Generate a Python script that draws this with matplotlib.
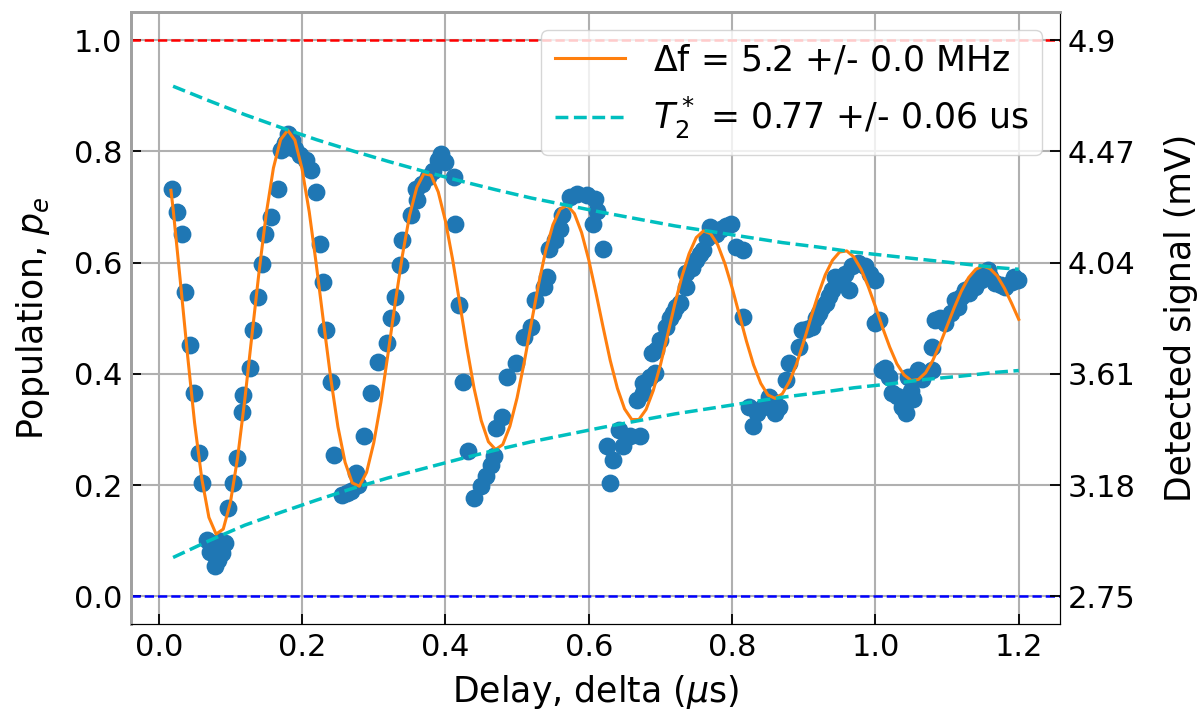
import numpy as np
import matplotlib.pyplot as plt

# measured points: delay (us) and excited-state population
delay = [0.018, 0.026, 0.032, 0.037, 0.044, 0.049, 0.056, 0.060, 0.067, 0.072,
         0.076, 0.079, 0.083, 0.085, 0.088, 0.093, 0.097, 0.104, 0.109, 0.116,
         0.118, 0.127, 0.132, 0.139, 0.144, 0.148, 0.157, 0.167, 0.171, 0.176,
         0.181, 0.181, 0.186, 0.190, 0.197, 0.206, 0.213, 0.220, 0.225, 0.229,
         0.234, 0.241, 0.245, 0.255, 0.262, 0.268, 0.275, 0.278, 0.287, 0.296,
         0.306, 0.319, 0.324, 0.329, 0.336, 0.340, 0.352, 0.359, 0.361, 0.368,
         0.375, 0.383, 0.390, 0.394, 0.400, 0.412, 0.414, 0.419, 0.424, 0.431,
         0.440, 0.449, 0.456, 0.463, 0.468, 0.470, 0.479, 0.486, 0.498, 0.509,
         0.519, 0.525, 0.537, 0.542, 0.544, 0.553, 0.560, 0.563, 0.574, 0.583,
         0.597, 0.606, 0.609, 0.611, 0.620, 0.625, 0.630, 0.634, 0.642, 0.648,
         0.657, 0.667, 0.671, 0.676, 0.676, 0.685, 0.688, 0.692, 0.694, 0.700,
         0.708, 0.713, 0.718, 0.722, 0.727, 0.736, 0.736, 0.744, 0.750, 0.755,
         0.759, 0.765, 0.769, 0.778, 0.785, 0.792, 0.799, 0.806, 0.815, 0.815,
         0.824, 0.829, 0.835, 0.843, 0.852, 0.858, 0.860, 0.866, 0.875, 0.880,
         0.893, 0.898, 0.905, 0.912, 0.917, 0.921, 0.926, 0.931, 0.935, 0.940,
         0.944, 0.948, 0.954, 0.958, 0.963, 0.968, 0.975, 0.986, 0.993, 1.000,
         1.000, 1.005, 1.009, 1.013, 1.019, 1.023, 1.030, 1.037, 1.042, 1.046,
         1.050, 1.052, 1.060, 1.065, 1.079, 1.079, 1.083, 1.090, 1.097, 1.106,
         1.111, 1.115, 1.120, 1.125, 1.130, 1.135, 1.139, 1.145, 1.148, 1.157,
         1.160, 1.167, 1.175, 1.181, 1.190, 1.194, 1.199]
pop = [0.733, 0.691, 0.652, 0.548, 0.452, 0.365, 0.258, 0.204, 0.102, 0.080,
       0.090, 0.054, 0.066, 0.100, 0.078, 0.096, 0.159, 0.204, 0.249, 0.332,
       0.362, 0.410, 0.479, 0.539, 0.598, 0.652, 0.682, 0.733, 0.802, 0.815,
       0.832, 0.808, 0.820, 0.805, 0.793, 0.784, 0.766, 0.727, 0.634, 0.566,
       0.479, 0.386, 0.255, 0.183, 0.186, 0.189, 0.222, 0.200, 0.288, 0.365,
       0.422, 0.455, 0.500, 0.539, 0.596, 0.640, 0.685, 0.733, 0.712, 0.742,
       0.754, 0.765, 0.785, 0.796, 0.781, 0.754, 0.670, 0.524, 0.386, 0.261,
       0.177, 0.198, 0.216, 0.237, 0.252, 0.303, 0.323, 0.395, 0.419, 0.467,
       0.485, 0.533, 0.557, 0.575, 0.625, 0.640, 0.661, 0.685, 0.718, 0.724,
       0.721, 0.670, 0.715, 0.693, 0.625, 0.270, 0.204, 0.246, 0.300, 0.270,
       0.288, 0.353, 0.288, 0.365, 0.383, 0.395, 0.437, 0.401, 0.443, 0.460,
       0.485, 0.500, 0.509, 0.520, 0.527, 0.557, 0.581, 0.590, 0.605, 0.615,
       0.622, 0.645, 0.664, 0.652, 0.660, 0.665, 0.670, 0.628, 0.622, 0.503,
       0.341, 0.306, 0.330, 0.341, 0.359, 0.350, 0.330, 0.341, 0.389, 0.419,
       0.449, 0.479, 0.480, 0.485, 0.500, 0.509, 0.520, 0.527, 0.540, 0.551,
       0.575, 0.570, 0.563, 0.580, 0.551, 0.593, 0.600, 0.593, 0.580, 0.569,
       0.491, 0.497, 0.407, 0.410, 0.395, 0.365, 0.360, 0.341, 0.329, 0.395,
       0.370, 0.355, 0.407, 0.390, 0.407, 0.449, 0.497, 0.500, 0.491, 0.509,
       0.533, 0.520, 0.539, 0.550, 0.545, 0.560, 0.557, 0.575, 0.569, 0.587,
       0.575, 0.563, 0.560, 0.557, 0.565, 0.575, 0.569]

# fitted curve
fit_x = [0.017, 0.02, 0.03, 0.04, 0.05, 0.06, 0.07, 0.08, 0.09, 0.10,
         0.11, 0.12, 0.13, 0.14, 0.15, 0.16, 0.17, 0.18, 0.19, 0.20,
         0.21, 0.22, 0.23, 0.24, 0.25, 0.26, 0.27, 0.28, 0.29, 0.30,
         0.31, 0.32, 0.33, 0.34, 0.35, 0.36, 0.37, 0.38, 0.39, 0.40,
         0.41, 0.42, 0.43, 0.44, 0.45, 0.46, 0.47, 0.48, 0.49, 0.50,
         0.51, 0.52, 0.53, 0.54, 0.55, 0.56, 0.57, 0.58, 0.59, 0.60,
         0.61, 0.62, 0.63, 0.64, 0.65, 0.66, 0.67, 0.68, 0.69, 0.70,
         0.71, 0.72, 0.73, 0.74, 0.75, 0.76, 0.77, 0.78, 0.79, 0.80,
         0.81, 0.82, 0.83, 0.84, 0.85, 0.86, 0.87, 0.88, 0.89, 0.90,
         0.91, 0.92, 0.93, 0.94, 0.95, 0.96, 0.97, 0.98, 0.99, 1.00,
         1.01, 1.02, 1.03, 1.04, 1.05, 1.06, 1.07, 1.08, 1.09, 1.10,
         1.11, 1.12, 1.13, 1.14, 1.15, 1.16, 1.17, 1.18, 1.19, 1.20]
fit_y = [0.730, 0.697, 0.568, 0.436, 0.312, 0.212, 0.142, 0.112, 0.121, 0.169,
         0.249, 0.353, 0.469, 0.584, 0.688, 0.770, 0.821, 0.838, 0.820, 0.768,
         0.691, 0.595, 0.492, 0.392, 0.305, 0.241, 0.204, 0.198, 0.223, 0.276,
         0.349, 0.437, 0.528, 0.613, 0.685, 0.735, 0.760, 0.757, 0.727, 0.675,
         0.606, 0.527, 0.447, 0.374, 0.316, 0.278, 0.264, 0.273, 0.306, 0.357,
         0.421, 0.492, 0.561, 0.622, 0.668, 0.696, 0.703, 0.688, 0.654, 0.605,
         0.546, 0.484, 0.424, 0.374, 0.337, 0.318, 0.318, 0.336, 0.370, 0.416,
         0.470, 0.525, 0.575, 0.616, 0.645, 0.657, 0.652, 0.632, 0.598, 0.555,
         0.507, 0.459, 0.416, 0.383, 0.362, 0.356, 0.364, 0.386, 0.418, 0.458,
         0.501, 0.542, 0.578, 0.604, 0.619, 0.621, 0.610, 0.588, 0.557, 0.521,
         0.483, 0.448, 0.418, 0.398, 0.388, 0.390, 0.402, 0.424, 0.453, 0.486,
         0.519, 0.549, 0.573, 0.588, 0.594, 0.589, 0.576, 0.554, 0.527, 0.498]

# decay envelope
env_x = [0.02, 0.07, 0.12, 0.17, 0.22, 0.27, 0.32, 0.37, 0.42, 0.47, 0.52, 0.57, 0.62,
         0.67, 0.72, 0.77, 0.82, 0.87, 0.92, 0.97, 1.02, 1.07, 1.12, 1.17, 1.20]
env_hi = [0.917, 0.891, 0.866, 0.843, 0.821, 0.801, 0.782, 0.764, 0.747, 0.731, 0.716, 0.703, 0.690,
          0.678, 0.666, 0.656, 0.646, 0.636, 0.628, 0.619, 0.612, 0.605, 0.598, 0.591, 0.588]
env_lo = [0.070, 0.100, 0.128, 0.151, 0.173, 0.194, 0.213, 0.230, 0.247, 0.263, 0.278, 0.291, 0.304,
          0.316, 0.328, 0.338, 0.348, 0.358, 0.366, 0.375, 0.382, 0.390, 0.396, 0.403, 0.406]

right_ticks = [0.0, 0.2, 0.4, 0.6, 0.8, 1.0]
right_labels = ['2.75', '3.18', '3.61', '4.04', '4.47', '4.9']

plt.rcParams['font.size'] = 22
fig = plt.figure(figsize=(12, 7.2), dpi=100)
ax = fig.add_axes([0.109, 0.133, 0.774, 0.85])

ax.axhline(1.0, color='r', ls='--', lw=1.8)
ax.axhline(0.0, color='b', ls='--', lw=1.8)
ax.scatter(delay, pop, s=140, color='C0', zorder=2)
l1, = ax.plot(fit_x, fit_y, color='C1', lw=2.2, zorder=3, label=r'$\Delta$f = 5.2 +/- 0.0 MHz')
l2, = ax.plot(env_x, env_hi, color='c', ls='--', lw=2.5, zorder=3,
              label=r'$T_2^*$ = 0.77 +/- 0.06 us')
ax.plot(env_x, env_lo, color='c', ls='--', lw=2.5, zorder=3)

ax.set_xlim(-0.039, 1.257)
ax.set_ylim(-0.05, 1.05)
ax.set_xticks([0.0, 0.2, 0.4, 0.6, 0.8, 1.0, 1.2])
ax.set_yticks([0.0, 0.2, 0.4, 0.6, 0.8, 1.0])
ax.set_axisbelow(True)
ax.grid(True, color='#b0b0b0', lw=1.5)
ax.tick_params(direction='in', length=7, width=1.3, labelsize=22, pad=6)
ax.set_xlabel(r'Delay, delta ($\mu$s)', fontsize=25, labelpad=8)
ax.set_ylabel(r'Population, $p_e$', fontsize=25, labelpad=16)

ax2 = ax.twinx()
ax2.set_ylim(ax.get_ylim())
ax2.set_yticks(right_ticks)
ax2.set_yticklabels(right_labels)
ax2.tick_params(direction='in', length=7, width=1.3, labelsize=22, pad=6)
ax2.set_ylabel('Detected signal (mV)', fontsize=25, labelpad=20)

for a in (ax, ax2):
    a.spines['left'].set_color('#a0a0a0')
    a.spines['top'].set_color('#a0a0a0')
    a.spines['left'].set_linewidth(2)
    a.spines['top'].set_linewidth(2)

ax2.legend([l1, l2], [l1.get_label(), l2.get_label()], loc='upper right', fontsize=25)

fig.savefig('out.png', dpi=100)
